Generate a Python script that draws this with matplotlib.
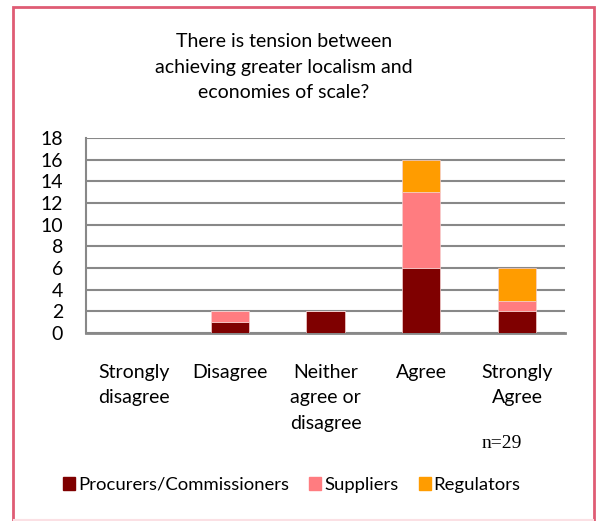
import matplotlib
matplotlib.use("Agg")
import matplotlib.pyplot as plt
from matplotlib.patches import Rectangle
from matplotlib.lines import Line2D
import numpy as np

categories = ["Strongly\ndisagree", "Disagree", "Neither\nagree or\ndisagree", "Agree", "Strongly\nAgree"]
procurers = [0, 1, 2, 6, 2]
suppliers = [0, 1, 0, 7, 1]
regulators = [0, 0, 0, 3, 3]
series_names = ["Procurers/Commissioners", "Suppliers", "Regulators"]
colors = ["#7f0000", "#ff7c80", "#ff9c00"]
yticks = list(range(0, 19, 2))

plt.rcParams['font.family'] = ['Lato', 'DejaVu Sans']

W, H = 596, 521
fig = plt.figure(figsize=(W/100, H/100), dpi=100)
# outer border (bottom edge falls off the image)
fig.patches.append(Rectangle((13/W, -10/H), 581/W, (H - 7 + 10)/H, transform=fig.transFigure,
                             fill=False, edgecolor="#df5c74", linewidth=2))
fig.lines.append(Line2D([14/W, 593/W], [1/H, 1/H], transform=fig.transFigure,
                        color="#fbe0e4", linewidth=1.5))

ax = fig.add_axes([86/W, 1 - 333/H, (565-86)/W, (333-138)/H])
x = np.arange(len(categories))
bottom = np.zeros(len(categories))
for vals, name, c in zip([procurers, suppliers, regulators], series_names, colors):
    ax.bar(x, vals, width=0.4, bottom=bottom, color=c, label=name, zorder=3,
           edgecolor="#f4d0d0", linewidth=0.5)
    bottom += np.array(vals)

ax.set_xlim(-0.5, len(categories) - 0.5)
ax.set_ylim(0, 18)
ax.set_yticks(yticks)
ax.set_yticklabels([str(v) for v in yticks], fontsize=14)
ax.yaxis.grid(True, color="#888888", linewidth=1.5, zorder=0)
ax.set_axisbelow(True)
for s in ["top", "right"]:
    ax.spines[s].set_visible(False)
ax.spines["left"].set_color("#888888")
ax.spines["left"].set_linewidth(1.5)
ax.spines["bottom"].set_color("#888888")
ax.spines["bottom"].set_linewidth(2)
ax.tick_params(axis="y", length=0, pad=16.5)
ax.tick_params(axis="x", length=0, pad=22)
ax.set_xticks(x)
ax.set_xticklabels(categories, fontsize=14, linespacing=1.62, va="top")

fig.text(284/W, 1 - 67/H, "There is tension between\nachieving greater localism and\neconomies of scale?",
         ha="center", va="center", fontsize=14, linespacing=1.58)

fig.text(502/W, 1 - 443/H, "n=29", ha="center", va="center", fontsize=14,
         family=["Liberation Serif", "DejaVu Serif"])

handles = [Rectangle((0, 0), 1, 1, color=c) for c in colors]
fig.legend(handles, series_names, loc="center", bbox_to_anchor=(292/W, 1 - 485/H),
           ncol=3, frameon=False, fontsize=13.3, handlelength=0.65, handleheight=0.65,
           handletextpad=0.15, columnspacing=1.1)

fig.savefig("out.png", dpi=100)
